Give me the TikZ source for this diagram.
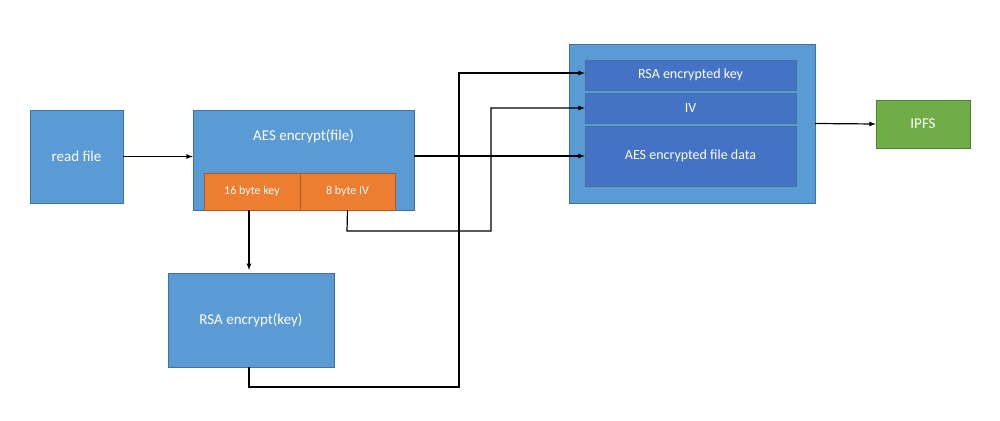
\documentclass[tikz,border=0pt]{standalone}
\usepackage{fontspec}
\setmainfont{Carlito}
\usetikzlibrary{positioning}
\definecolor{blueA}{HTML}{5B9BD5}
\definecolor{blueB}{HTML}{4472C4}
\definecolor{edgeB}{HTML}{41719C}
\definecolor{orangeA}{HTML}{ED7D31}
\definecolor{edgeO}{HTML}{AE5A21}
\definecolor{greenA}{HTML}{70AD47}
\definecolor{edgeG}{HTML}{507E32}
\tikzset{
  box/.style={draw=edgeB, fill=blueA, text=white, inner sep=0pt, font=\fontsize{15}{18}\selectfont},
  field/.style={draw=edgeB, fill=blueB, text=white, inner sep=0pt, font=\fontsize{14}{17}\selectfont},
  part/.style={draw=edgeO, fill=orangeA, text=white, inner sep=0pt, font=\fontsize{12}{14}\selectfont},
  link/.style={draw=black, line width=1.2pt, -latex}
}
\begin{document}
\begin{tikzpicture}[x=1pt, y=-1pt]
    \useasboundingbox (0,0) rectangle (1000,420);

    \node[box, minimum width=93pt, minimum height=93pt] (read) at (76.5,156.5) {read file};
    \node[box, minimum width=221pt, minimum height=100pt, text depth=50pt] (aes) at (303.5,160) {AES encrypt(file)};
    \node[part, minimum width=96pt, minimum height=37pt] (key) at (252,191.5) {16 byte key};
    \node[part, minimum width=95pt, minimum height=37pt] (iv) at (347.5,191.5) {8 byte IV};
    \node[box, minimum width=166pt, minimum height=94pt] (rsa) at (251,320) {RSA encrypt(key)};

    \node[box, minimum width=246pt, minimum height=159pt] (pack) at (692,123.5) {};
    \node[field, minimum width=211pt, minimum height=30pt] (fkey) at (690.5,75) {RSA encrypted key};
    \node[field, minimum width=211pt, minimum height=30pt] (fiv) at (690.5,108) {IV};
    \node[field, minimum width=211pt, minimum height=60pt] (fdata) at (690.5,156) {AES encrypted file data};

    \node[draw=edgeG, fill=greenA, text=white, inner sep=0pt, minimum width=94pt, minimum height=48pt,
          font=\fontsize{15}{18}\selectfont] (ipfs) at (923,124) {IPFS};

    % connectors
    \draw[link] (read.east) -- (aes.west |- read.east);
    \draw[link] (aes.east |- fdata.west) -- (fdata.west);
    \draw[link] (key.south -| 249,0) -- (249,270);
    \draw[link] (249,367) -- (249,387) -- (459,387) -- (459,73) -- (fkey.west |- 0,73);
    \draw[link] (iv.south) -- (347,231) -- (491,231) -- (491,108) -- (fiv.west);
    \draw[link] (pack.east) -- (ipfs.west);
\end{tikzpicture}
\end{document}
